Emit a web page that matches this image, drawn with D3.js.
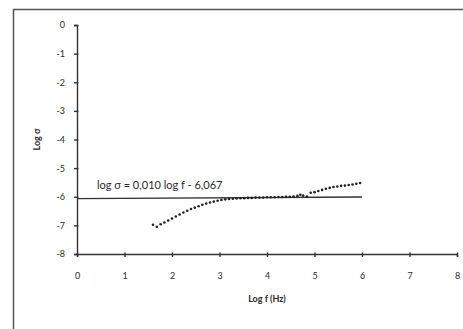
<!DOCTYPE html>
<html>
<head>
<meta charset="utf-8">
<script src="https://cdn.jsdelivr.net/npm/d3@7"></script>
<style>
  html, body { margin: 0; padding: 0; background: #fff; }
  svg { display: block; }
  .axis text { font-family: Lato, "Open Sans", sans-serif; font-size: 9px; fill: #2a2a2a; }
  .axis path, .axis line { stroke: #333; stroke-width: 1.4; }
</style>
</head>
<body>
<div id="chart"></div>
<script>
// data
const logF = [1.60, 1.68, 1.76, 1.84, 1.92, 2.00, 2.08, 2.16, 2.24, 2.32,
  2.40, 2.48, 2.56, 2.64, 2.72, 2.80, 2.88, 2.96, 3.04, 3.12,
  3.20, 3.28, 3.36, 3.44, 3.52, 3.60, 3.68, 3.76, 3.84, 3.92,
  4.00, 4.08, 4.16, 4.24, 4.32, 4.40, 4.48, 4.56, 4.64, 4.70,
  4.76, 4.84, 4.92, 5.00, 5.08, 5.16, 5.24, 5.32, 5.40, 5.48,
  5.56, 5.64, 5.72, 5.80, 5.88, 5.96];
const logSigma = [-6.98, -7.05, -6.96, -6.90, -6.83, -6.76, -6.69, -6.62, -6.55, -6.49,
  -6.43, -6.38, -6.33, -6.28, -6.24, -6.20, -6.17, -6.14, -6.11, -6.09,
  -6.08, -6.07, -6.06, -6.05, -6.05, -6.04, -6.04, -6.03, -6.03, -6.03,
  -6.02, -6.02, -6.02, -6.01, -6.01, -6.00, -6.00, -5.99, -5.97, -5.93,
  -5.96, -5.99, -5.86, -5.84, -5.80, -5.76, -5.72, -5.69, -5.66, -5.64,
  -5.62, -5.61, -5.59, -5.57, -5.55, -5.52];

const fitRange = [0, 6];
const fitSlope = 0.010;
const fitIntercept = -6.067;
const fitLabel = "log σ = 0,010 log f - 6,067";

const xTicks = [0, 1, 2, 3, 4, 5, 6, 7, 8];
const yTicks = [0, -1, -2, -3, -4, -5, -6, -7, -8];

const width = 463, height = 329;

const svg = d3.select("#chart")
  .append("svg")
  .attr("width", width)
  .attr("height", height);

// chart frame (runs off the right and bottom edge)
svg.append("rect")
  .attr("x", 13.5)
  .attr("y", 9.5)
  .attr("width", 470)
  .attr("height", 340)
  .attr("fill", "none")
  .attr("stroke", "#555")
  .attr("stroke-width", 1.5);

const x = d3.scaleLinear().domain([0, 8]).range([77, 457]);
const y = d3.scaleLinear().domain([-8, 0]).range([254, 25]);

// plain hyphen for negatives, like the original
const fmt = d => String(d);

svg.append("g")
  .attr("class", "axis")
  .attr("transform", `translate(0,${y(-8)})`)
  .call(d3.axisBottom(x).tickValues(xTicks).tickSize(3).tickPadding(16).tickFormat(fmt))
  .call(g => g.selectAll(".tick line").attr("y1", -1.5));

svg.append("g")
  .attr("class", "axis")
  .attr("transform", `translate(${x(0)},0)`)
  .call(d3.axisLeft(y).tickValues(yTicks).tickSize(3).tickPadding(9).tickFormat(fmt))
  .call(g => g.selectAll(".tick line").attr("x1", 1.5));

// axis titles
svg.append("text")
  .attr("x", x(4))
  .attr("y", 302)
  .attr("text-anchor", "middle")
  .style("font-family", "Lato, 'Open Sans', sans-serif")
  .style("font-size", "9px")
  .style("font-weight", "bold")
  .style("fill", "#2a2a2a")
  .text("Log f (Hz)");

svg.append("text")
  .attr("transform", `translate(40,${y(-4)}) rotate(-90)`)
  .attr("text-anchor", "middle")
  .style("font-family", "Lato, 'Open Sans', sans-serif")
  .style("font-size", "9px")
  .style("font-weight", "bold")
  .style("fill", "#2a2a2a")
  .text("Log σ");

// linear fit
svg.append("line")
  .attr("x1", x(fitRange[0]))
  .attr("y1", y(fitSlope * fitRange[0] + fitIntercept))
  .attr("x2", x(fitRange[1]))
  .attr("y2", y(fitSlope * fitRange[1] + fitIntercept))
  .attr("stroke", "#333")
  .attr("stroke-width", 1.4);

svg.append("text")
  .attr("x", x(0.42))
  .attr("y", y(-5.74))
  .style("font-family", "Lato, 'Open Sans', sans-serif")
  .style("font-size", "11px")
  .style("fill", "#2a2a2a")
  .text(fitLabel);

// measured points
const pts = logF.map((f, i) => ({ f: f, s: logSigma[i] }));
svg.append("g")
  .selectAll("circle")
  .data(pts)
  .enter().append("circle")
  .attr("cx", d => x(d.f))
  .attr("cy", d => y(d.s))
  .attr("r", 1.3)
  .attr("fill", "#222");
</script>
</body>
</html>
